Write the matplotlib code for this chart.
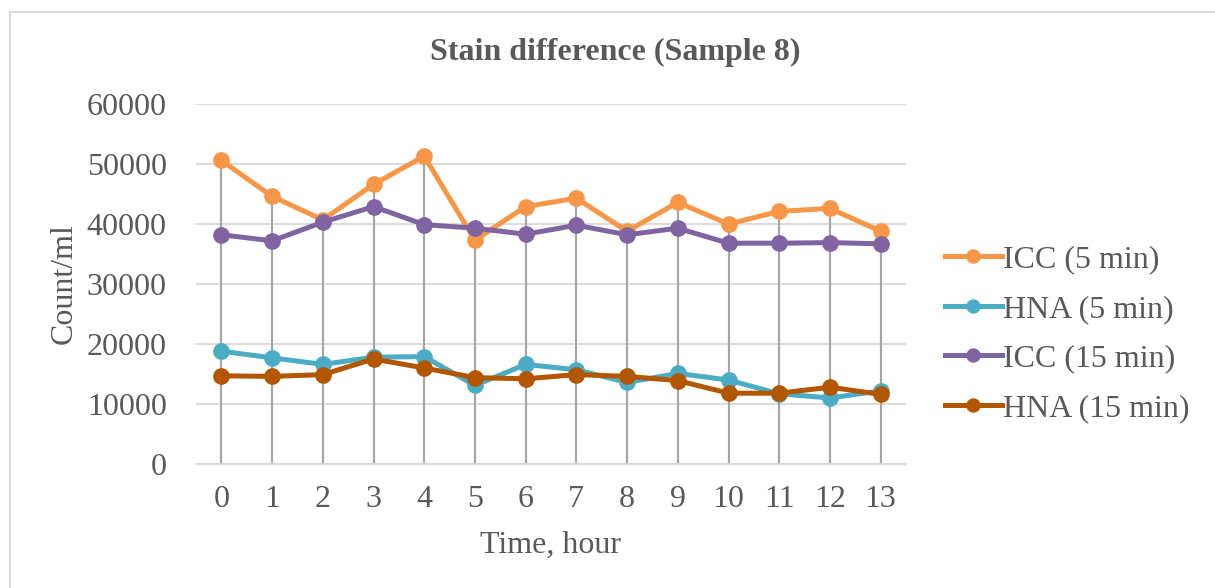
import numpy as np
import matplotlib
matplotlib.use("Agg")
import matplotlib.pyplot as plt
from matplotlib.patches import Rectangle

# hourly counts per stain
hours = list(range(14))
icc_5 = [50600, 44600, 40700, 46600, 51300, 37300, 42900, 44300, 38800, 43600, 40000, 42100, 42600, 38800]
hna_5 = [18800, 17700, 16600, 17800, 17900, 13100, 16600, 15700, 13600, 15100, 14000, 11700, 11000, 12200]
icc_15 = [38200, 37200, 40300, 42900, 39900, 39300, 38300, 39800, 38200, 39300, 36800, 36800, 36900, 36700]
hna_15 = [14700, 14600, 14900, 17500, 16000, 14400, 14200, 14900, 14600, 13900, 11800, 11800, 12800, 11600]
names = ["ICC (5 min)", "HNA (5 min)", "ICC (15 min)", "HNA (15 min)"]
colors = ["#F79646", "#4BACC6", "#8064A2", "#B35600"]

plt.rcParams["font.family"] = ["Liberation Serif", "DejaVu Serif"]
txt = "#595959"
fs = 23

fig = plt.figure(figsize=(12.15, 5.88), dpi=100)
ax = fig.add_axes([196/1215, 1-464/588, 710/1215, 360/588])

# drop lines from the highest point down to the axis
series = [icc_5, hna_5, icc_15, hna_15]
tops = np.max(np.array(series), axis=0)
ax.vlines(hours, 0, tops, color="#A6A6A6", lw=1.6, zorder=1.5)

for vals, name, c in zip(series, names, colors):
    ax.plot(hours, vals, color=c, lw=3.6, marker="o", ms=11, label=name, zorder=3)

ax.set_xlim(-0.5, 13.5)
ax.set_ylim(0, 60000)
ax.set_yticks(range(0, 60001, 10000))
ax.set_xticks(hours)
ax.grid(axis="y", color="#D9D9D9", lw=1.3)
ax.set_axisbelow(True)
for s in ["top", "right", "left"]:
    ax.spines[s].set_visible(False)
ax.spines["bottom"].set_color("#D9D9D9")
ax.spines["bottom"].set_linewidth(1.3)
ax.tick_params(axis="both", length=0, labelsize=fs, labelcolor=txt)
ax.tick_params(axis="y", pad=21)
ax.tick_params(axis="x", pad=15)

ax.set_xlabel("Time, hour", fontsize=fs, color=txt)
ax.xaxis.set_label_coords(0.5, -0.185)
ax.set_ylabel("Count/ml", fontsize=fs, color=txt)
ax.yaxis.set_label_coords(-0.165, 0.5)

fig.text(615/1215, 1-52/588, "Stain difference (Sample 8)", fontsize=fs,
         fontweight="bold", color=txt, ha="center", va="center")

fig.legend(loc="center left", bbox_to_anchor=(945/1215, 1-334/588), frameon=False,
           fontsize=fs, labelcolor=txt, handlelength=1.78, handletextpad=0.05,
           labelspacing=0.64, borderpad=0, borderaxespad=0, markerscale=0.85)

# chart frame
fig.patches.append(Rectangle((10/1215, -0.1), 1.2, 1-12/588+0.1, transform=fig.transFigure,
                             fill=False, ec="#D9D9D9", lw=1.5))

fig.savefig("out.png", dpi=100)
